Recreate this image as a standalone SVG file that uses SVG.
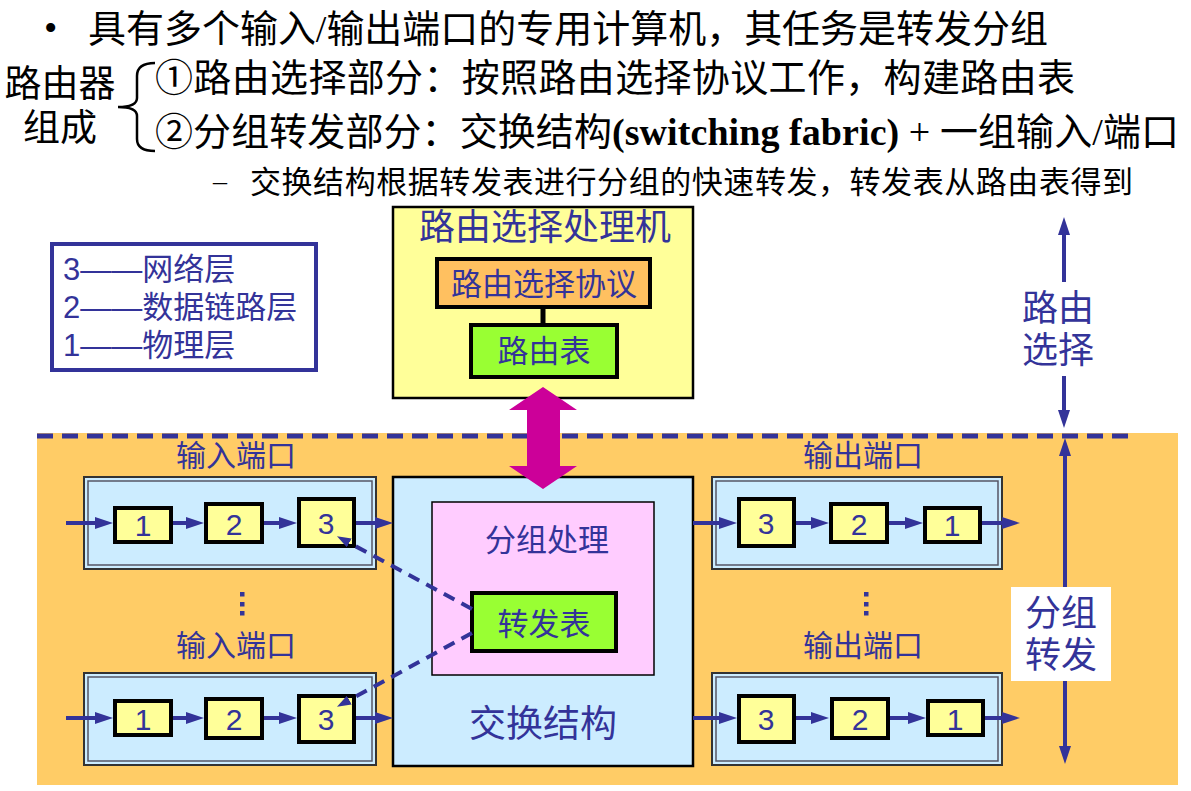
<svg xmlns="http://www.w3.org/2000/svg" width="1191" height="791" viewBox="0 0 1191 791">
<style>
.top{font-family:"Liberation Serif","Noto Sans CJK SC",serif;fill:#000}
.cj{font-family:"Liberation Sans","Noto Sans CJK SC",sans-serif;fill:#333399}
.num{font-family:"Liberation Sans","Noto Sans CJK SC",sans-serif;fill:#333399;font-size:30px;text-anchor:middle}
.lay{fill:#FFFF99;stroke:#000;stroke-width:4}
.port{fill:#CCECFF;stroke:#333;stroke-width:2}
.porti{fill:none;stroke:#556;stroke-width:1.5}
.flow{stroke:#333399;stroke-width:4;fill:none;marker-end:url(#arr)}
.dash{stroke:#333399;stroke-width:4;fill:none;stroke-dasharray:12 8;marker-end:url(#arrs)}
.vline{stroke:#333399;stroke-width:4;fill:none;marker-end:url(#arr)}
.mid{text-anchor:middle}
</style>
<defs>
<marker id="arr" viewBox="0 0 18 12" markerWidth="18" markerHeight="12" refX="8" refY="6" markerUnits="userSpaceOnUse" orient="auto">
<path d="M0,0 L18,6 L0,12 z" fill="#333399"/>
</marker>
<marker id="arrs" viewBox="0 0 14 10" markerWidth="14" markerHeight="10" refX="6" refY="5" markerUnits="userSpaceOnUse" orient="auto">
<path d="M0,0 L14,5 L0,10 z" fill="#333399"/>
</marker>
</defs>

<!-- header text -->
<g id="header">
<text class="top" x="44" y="41" font-size="38">•</text>
<text class="top" x="88" y="42" font-size="38" textLength="960" lengthAdjust="spacing">具有多个输入/输出端口的专用计算机，其任务是转发分组</text>
<text class="top mid" x="60" y="97" font-size="37">路由器</text>
<text class="top mid" x="60" y="141" font-size="37">组成</text>
<path d="M155,63 Q137,63 137,76 L137,98 Q137,107 118,107 Q137,107 137,116 L137,139 Q137,151 155,151" fill="none" stroke="#000" stroke-width="2.5"/>
<text class="top" x="155" y="91" font-size="38" textLength="920" lengthAdjust="spacing">①路由选择部分：按照路由选择协议工作，构建路由表</text>
<text class="top" x="155" y="145" font-size="38" textLength="1024" lengthAdjust="spacing">②分组转发部分：交换结构<tspan font-weight="bold">(switching fabric)</tspan> + 一组输入/端口</text>
<text class="top" x="213" y="190" font-size="28">–</text>
<text class="top" x="250" y="193" font-size="31" textLength="883" lengthAdjust="spacing">交换结构根据转发表进行分组的快速转发，转发表从路由表得到</text>
</g>

<!-- orange forwarding area -->
<rect x="37" y="433" width="1141" height="352" fill="#FFCC66"/>
<line x1="37" y1="436" x2="1135" y2="436" stroke="#333399" stroke-width="5" stroke-dasharray="16 9"/>

<!-- legend -->
<g id="legend">
<rect x="52" y="244" width="264" height="126" fill="#fff" stroke="#333399" stroke-width="4"/>
<text class="cj" x="63" y="280" font-size="31">3——网络层</text>
<text class="cj" x="63" y="318" font-size="31">2——数据链路层</text>
<text class="cj" x="63" y="356" font-size="31">1——物理层</text>
</g>

<!-- routing processor -->
<g id="routing-processor">
<rect x="393" y="207" width="300" height="191" fill="#FFFF99" stroke="#000" stroke-width="2.5"/>
<text class="cj mid" x="545" y="240" font-size="36">路由选择处理机</text>
</g>
<g id="routing-protocol">
<rect x="437" y="259" width="213" height="48" fill="#FFC060" stroke="#000" stroke-width="4"/>
<text class="cj mid" x="544" y="295" font-size="31">路由选择协议</text>
</g>
<g id="routing-table">
<rect x="471" y="325" width="146" height="52" fill="#99FF33" stroke="#000" stroke-width="4"/>
<text class="cj mid" x="544" y="362" font-size="31">路由表</text>
</g>

<!-- switching fabric -->
<g id="switching-fabric">
<rect x="393" y="477" width="300" height="289" fill="#CCECFF" stroke="#000" stroke-width="2.5"/>
<text class="cj mid" x="543" y="737" font-size="37">交换结构</text>
</g>
<g id="packet-processing">
<rect x="432" y="502" width="222" height="173" fill="#FFCCFF" stroke="#000" stroke-width="1.5"/>
<text class="cj mid" x="547" y="551" font-size="31">分组处理</text>
</g>
<g id="forwarding-table">
<rect x="472" y="593" width="144" height="58" fill="#99FF33" stroke="#000" stroke-width="4"/>
<text class="cj mid" x="544" y="635" font-size="31">转发表</text>
</g>

<!-- input ports -->
<g id="input-port-1">
<text class="cj mid" x="236" y="466" font-size="30">输入端口</text>
<rect class="port" x="84" y="477" width="292" height="92"/>
<rect class="porti" x="88" y="481" width="284" height="84"/>
<rect class="lay" x="115" y="508" width="56" height="34"/>
<rect class="lay" x="206" y="504" width="56" height="38"/>
<rect class="lay" x="299" y="499" width="55" height="47"/>
<text class="num" x="143" y="536">1</text>
<text class="num" x="234" y="535">2</text>
<text class="num" x="326" y="534">3</text>
</g>
<g id="input-port-2">
<text class="cj mid" x="236" y="656" font-size="30">输入端口</text>
<rect class="port" x="84" y="673" width="292" height="92"/>
<rect class="porti" x="88" y="677" width="284" height="84"/>
<rect class="lay" x="115" y="701" width="56" height="34"/>
<rect class="lay" x="206" y="699" width="56" height="39"/>
<rect class="lay" x="299" y="696" width="55" height="46"/>
<text class="num" x="143" y="730">1</text>
<text class="num" x="234" y="730">2</text>
<text class="num" x="326" y="730">3</text>
</g>
<g id="input-dots" fill="#333399">
<rect x="240" y="592" width="4.5" height="4.5"/>
<rect x="240" y="602" width="4.5" height="4.5"/>
<rect x="240" y="611" width="4.5" height="4.5"/>
</g>

<!-- output ports -->
<g id="output-port-1">
<text class="cj mid" x="863" y="466" font-size="30">输出端口</text>
<rect class="port" x="712" y="477" width="290" height="92"/>
<rect class="porti" x="716" y="481" width="282" height="84"/>
<rect class="lay" x="739" y="499" width="55" height="47"/>
<rect class="lay" x="831" y="504" width="56" height="38"/>
<rect class="lay" x="925" y="508" width="55" height="34"/>
<text class="num" x="766" y="534">3</text>
<text class="num" x="859" y="535">2</text>
<text class="num" x="952" y="536">1</text>
</g>
<g id="output-port-2">
<text class="cj mid" x="863" y="656" font-size="30">输出端口</text>
<rect class="port" x="712" y="673" width="290" height="92"/>
<rect class="porti" x="716" y="677" width="282" height="84"/>
<rect class="lay" x="739" y="696" width="55" height="46"/>
<rect class="lay" x="832" y="699" width="56" height="39"/>
<rect class="lay" x="928" y="701" width="55" height="34"/>
<text class="num" x="766" y="730">3</text>
<text class="num" x="860" y="730">2</text>
<text class="num" x="955" y="730">1</text>
</g>
<g id="output-dots" fill="#333399">
<rect x="864" y="592" width="4.5" height="4.5"/>
<rect x="864" y="602" width="4.5" height="4.5"/>
<rect x="864" y="611" width="4.5" height="4.5"/>
</g>

<!-- side labels -->
<g id="label-routing">
<text class="cj mid" x="1058" y="321" font-size="36">路由</text>
<text class="cj mid" x="1058" y="363" font-size="36">选择</text>
</g>
<g id="label-forwarding">
<rect x="1011" y="587" width="100" height="94" fill="#fff"/>
<text class="cj mid" x="1061" y="626" font-size="36">分组</text>
<text class="cj mid" x="1061" y="668" font-size="36">转发</text>
</g>

<!-- connectors -->
<g id="connectors">
<line x1="543" y1="307" x2="543" y2="325" stroke="#000" stroke-width="5"/>
<line class="flow" x1="66" y1="523" x2="103" y2="523"/>
<line class="flow" x1="173" y1="523" x2="194" y2="523"/>
<line class="flow" x1="264" y1="523" x2="287" y2="523"/>
<line class="flow" x1="356" y1="523" x2="383" y2="523"/>
<line class="flow" x1="66" y1="718" x2="103" y2="718"/>
<line class="flow" x1="173" y1="718" x2="194" y2="718"/>
<line class="flow" x1="264" y1="718" x2="287" y2="718"/>
<line class="flow" x1="356" y1="718" x2="383" y2="718"/>
<line class="flow" x1="693" y1="523" x2="727" y2="523"/>
<line class="flow" x1="796" y1="523" x2="819" y2="523"/>
<line class="flow" x1="889" y1="523" x2="913" y2="523"/>
<line class="flow" x1="982" y1="523" x2="1010" y2="523"/>
<line class="flow" x1="693" y1="718" x2="727" y2="718"/>
<line class="flow" x1="796" y1="718" x2="819" y2="718"/>
<line class="flow" x1="890" y1="718" x2="916" y2="718"/>
<line class="flow" x1="985" y1="718" x2="1010" y2="718"/>
<line class="dash" x1="472" y1="609" x2="344" y2="540"/>
<line class="dash" x1="472" y1="633" x2="344" y2="703"/>
<line class="vline" x1="1064" y1="282" x2="1064" y2="227"/>
<line class="vline" x1="1064" y1="376" x2="1064" y2="418"/>
<line class="vline" x1="1065" y1="587" x2="1065" y2="448"/>
<line class="vline" x1="1065" y1="681" x2="1065" y2="754"/>
<path d="M543,387 L577,410 L560,410 L560,466 L577,466 L543,489 L509,466 L527,466 L527,410 L509,410 Z" fill="#CC0099"/>
</g>
</svg>
